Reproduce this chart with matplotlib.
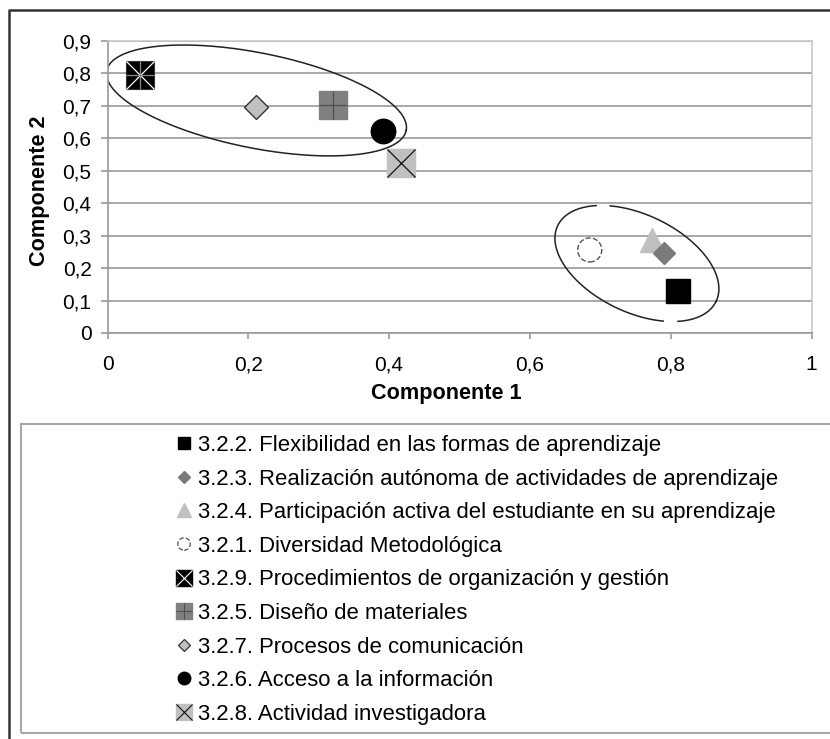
import matplotlib.pyplot as plt
import numpy as np
from matplotlib.lines import Line2D
from matplotlib.patches import Rectangle

plt.rcParams['font.family'] = ['Liberation Sans', 'DejaVu Sans']

# datos
labels = [
    "3.2.2. Flexibilidad en las formas de aprendizaje",
    "3.2.3. Realización autónoma de actividades de aprendizaje",
    "3.2.4. Participación activa del estudiante en su aprendizaje",
    "3.2.1. Diversidad Metodológica",
    "3.2.9. Procedimientos de organización y gestión",
    "3.2.5. Diseño de materiales",
    "3.2.7. Procesos de comunicación",
    "3.2.6. Acceso a la información",
    "3.2.8. Actividad investigadora",
]
comp1 = [0.81, 0.79, 0.773, 0.685, 0.046, 0.321, 0.211, 0.392, 0.417]
comp2 = [0.13, 0.248, 0.287, 0.256, 0.795, 0.703, 0.696, 0.623, 0.525]

xticks = [0, 0.2, 0.4, 0.6, 0.8, 1]
xtick_labels = ["0", "0,2", "0,4", "0,6", "0,8", "1"]
yticks = [0, 0.1, 0.2, 0.3, 0.4, 0.5, 0.6, 0.7, 0.8, 0.9]
ytick_labels = ["0", "0,1", "0,2", "0,3", "0,4", "0,5", "0,6", "0,7", "0,8", "0,9"]

W, H = 830, 739
fig = plt.figure(figsize=(W / 100, H / 100), dpi=100)
ax = fig.add_axes([107.5 / W, 1 - 333 / H, 704 / W, 292 / H])
ax.set_xlim(0, 1)
ax.set_ylim(0, 0.9)

grid_c = '#9a9a9a'
ax.set_yticks(yticks)
ax.set_yticklabels(ytick_labels)
ax.set_xticks(xticks)
ax.set_xticklabels(xtick_labels)
ax.tick_params(axis='both', labelsize=15, color=grid_c, width=1.2)
ax.tick_params(axis='y', length=5, pad=6.5)
ax.tick_params(axis='x', length=4.5, pad=11.5)
ax.yaxis.grid(True, color=grid_c, linewidth=1.2)
ax.set_axisbelow(True)
for s in ['left', 'bottom']:
    ax.spines[s].set_color(grid_c)
    ax.spines[s].set_linewidth(1.2)
for s in ['right', 'top']:
    ax.spines[s].set_color('#c8c8c8')
    ax.spines[s].set_linewidth(1.2)

ax.set_xlabel("Componente 1", fontsize=15.6, fontweight='bold')
ax.set_ylabel("Componente 2", fontsize=15.6, fontweight='bold')
ax.xaxis.set_label_coords((446 - 107.5) / 704, (333 - 393) / 292)
ax.xaxis.label.set_va('center')
ax.yaxis.set_label_coords((40 - 107.5) / 704, (333 - 191) / 292)
ax.yaxis.label.set_va('center')

# elipses (en pixeles, convertidas a datos)
px_x = 704 / 1.0
px_y = 292 / 0.9


def ellipse(cx, cy, a, b, ang, gaps=()):
    t = np.linspace(0, 2 * np.pi, 600)
    th = np.radians(ang)
    ox = a * np.cos(t) * np.cos(th) - b * np.sin(t) * np.sin(th)
    oy = a * np.cos(t) * np.sin(th) + b * np.sin(t) * np.cos(th)
    xs = cx + ox / px_x
    ys = cy + oy / px_y
    for (x0, x1, up) in gaps:
        m = (ox > x0) & (ox < x1) & ((oy > 0) == up)
        ys = np.where(m, np.nan, ys)
    ax.plot(xs, ys, color='#222222', lw=1.1, zorder=2)


ellipse(0.2116, 0.7167, 152.7, 47.6, -11.3)
ellipse(0.752, 0.2142, 87.8, 48.8, -25.5, gaps=[(-40, -27, True), (27, 41, False)])

# puntos
z = 3
ax.plot(comp1[0], comp2[0], 's', ms=16.8, mfc='black', mec='black', zorder=z)
ax.plot(comp1[2], comp2[2], '^', ms=17, mfc='#c0c0c0', mec='#c0c0c0', zorder=z)
ax.plot(comp1[1], comp2[1], 'D', ms=11.5, mfc='#7a7a7a', mec='#7a7a7a', zorder=z + 1)
ax.scatter(comp1[3], comp2[3], s=300, facecolors='white', edgecolors='#555555',
           linewidths=1.0, linestyles='--', zorder=z)
ax.plot(comp1[4], comp2[4], 's', ms=19.8, mfc='black', mec='#333333', mew=0.8, zorder=z)
ax.plot(comp1[4], comp2[4], 'x', ms=19.8, mec='white', mew=0.9, zorder=z)
ax.plot(comp1[4], comp2[4], '+', ms=19.8, mec='#888888', mew=0.9, zorder=z)
ax.plot(comp1[5], comp2[5], 's', ms=20.5, mfc='#808080', mec='#808080', zorder=z)
ax.plot(comp1[5], comp2[5], '+', ms=20.5, mec='#505050', mew=0.9, zorder=z)
ax.plot(comp1[6], comp2[6], 'D', ms=12, mfc='#c0c0c0', mec='#333333', mew=1.0, zorder=z)
ax.plot(comp1[7], comp2[7], 'o', ms=17.6, mfc='black', mec='black', zorder=z)
ax.plot(comp1[8], comp2[8], 's', ms=20, mfc='#c0c0c0', mec='#c0c0c0', zorder=z)
ax.plot(comp1[8], comp2[8], 'x', ms=20, mec='#111111', mew=0.9, zorder=z)

# leyenda
def L(**kw):
    return Line2D([], [], linestyle='none', **kw)

h_circ = ax.scatter([], [], s=80, facecolors='white', edgecolors='#555555',
                    linewidths=0.9, linestyles='--')
handles = [
    L(marker='s', ms=9, mfc='black', mec='black'),
    L(marker='D', ms=6.5, mfc='#7a7a7a', mec='#7a7a7a'),
    L(marker='^', ms=9.5, mfc='#c0c0c0', mec='#c0c0c0'),
    h_circ,
    (L(marker='s', ms=11.5, mfc='black', mec='black'),
     L(marker='x', ms=11.5, mec='white', mew=0.8)),
    (L(marker='s', ms=11.5, mfc='#808080', mec='#808080'),
     L(marker='+', ms=11.5, mec='#505050', mew=0.8)),
    L(marker='D', ms=6.5, mfc='#c0c0c0', mec='#333333', mew=0.9),
    L(marker='o', ms=9, mfc='black', mec='black'),
    (L(marker='s', ms=11.5, mfc='#c0c0c0', mec='#c0c0c0'),
     L(marker='x', ms=11.5, mec='#111111', mew=0.8)),
]
fig.legend(handles, labels, loc='upper left', bbox_to_anchor=(173 / W, 1 - 435 / H),
           bbox_transform=fig.transFigure, frameon=False, borderpad=0, borderaxespad=0,
           fontsize=15.9, handlelength=1.0, handletextpad=0.15, labelspacing=0.57,
           scatterpoints=1, scatteryoffsets=[0.5])

fig.patches.append(Rectangle((20.7 / W, 1 - 733 / H), 1.0, (733 - 424) / H,
                             transform=fig.transFigure, fill=False,
                             edgecolor='#a8a8a8', lw=1.5))
# borde exterior
fig.add_artist(Line2D([9 / W, 9 / W, 1.0], [0.0, 1 - 10 / H, 1 - 10 / H],
                      transform=fig.transFigure, color='#333333', lw=1.8))

fig.savefig('out.png', dpi=100)
